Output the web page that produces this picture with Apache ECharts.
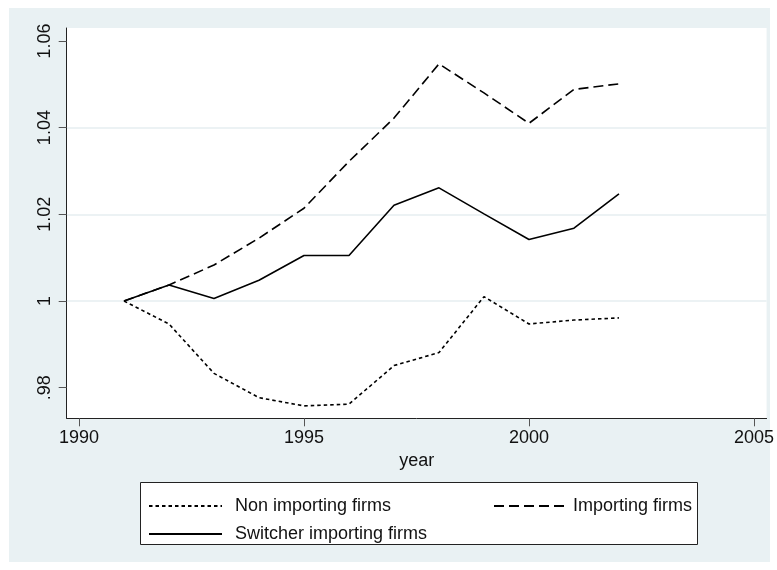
<!DOCTYPE html>
<html>
<head>
<meta charset="utf-8">
<script src="https://cdn.jsdelivr.net/npm/echarts@6/dist/echarts.min.js"></script>
<style>
  html, body { margin: 0; padding: 0; background: #fff; }
  #chart { width: 777px; height: 570px; }
</style>
</head>
<body>
<div id="chart"></div>
<script>
// values
const years = [1991, 1992, 1993, 1994, 1995, 1996, 1997, 1998, 1999, 2000, 2001, 2002]
const nonImporting = [1.0, 0.9947, 0.9833, 0.9777, 0.9758, 0.9762, 0.9851, 0.9881, 1.0010, 0.9947, 0.9956, 0.9961]
const importing = [1.0, 1.0037, 1.0083, 1.0145, 1.0214, 1.0322, 1.0422, 1.0547, 1.0480, 1.0410, 1.0488, 1.0501]
const switcher = [1.0, 1.0037, 1.0006, 1.0048, 1.0105, 1.0105, 1.0221, 1.0261, 1.0201, 1.0142, 1.0168, 1.0247]
const xTicks = [1990, 1995, 2000, 2005]
const yTicks = [0.98, 1.0, 1.02, 1.04, 1.06]
const yTickLabels = ['.98', '1', '1.02', '1.04', '1.06']

const FONT = "'Liberation Sans', Arial, sans-serif"
const BG = '#e9f1f3'
const GRIDLINE = '#e6eef1'

const pairs = (vals) => years.map((y, i) => [y, vals[i]])

const chart = echarts.init(document.getElementById('chart'))

// legend icons: line only, no marker on it
const legendItem = { color: 'transparent', borderWidth: 0 }

chart.setOption({
  animation: false,
  backgroundColor: '#fff',
  textStyle: { fontFamily: FONT },
  graphic: [
    { type: 'rect', z: -10, shape: { x: 9, y: 8, width: 761, height: 554 }, style: { fill: BG } },
    { type: 'rect', z: -5, shape: { x: 140.5, y: 482.5, width: 557, height: 62 }, style: { fill: '#fff', stroke: '#222', lineWidth: 1 } },
  ],
  grid: { left: 66.7, right: 10.3, top: 28, bottom: 151.7, show: true, backgroundColor: '#fff', borderWidth: 0 },
  xAxis: {
    type: 'value',
    min: 1989.727,
    max: 2005.28,
    name: 'year',
    nameLocation: 'middle',
    nameGap: 33,
    nameTextStyle: { color: '#111', fontSize: 18, fontFamily: FONT },
    axisLine: { lineStyle: { color: '#222', width: 1 } },
    axisTick: { customValues: xTicks, length: 8, lineStyle: { color: '#555' } },
    axisLabel: { customValues: xTicks, color: '#111', fontSize: 18, margin: 11, fontFamily: FONT, formatter: (v) => String(v) },
    splitLine: { show: false },
  },
  yAxis: {
    type: 'value',
    min: 0.97294,
    max: 1.06298,
    splitNumber: 4,
    axisLine: { show: true, lineStyle: { color: '#222', width: 1 } },
    axisTick: { show: true, customValues: yTicks, length: 8, lineStyle: { color: '#555' } },
    axisLabel: {
      customValues: yTicks,
      rotate: 90,
      color: '#111',
      fontSize: 18,
      margin: 13,
      fontFamily: FONT,
      formatter: (v) => yTickLabels[yTicks.findIndex((t) => Math.abs(t - v) < 1e-6)] ?? '',
    },
    splitLine: { show: true, showMinLine: false, showMaxLine: false, lineStyle: { color: GRIDLINE, width: 1.5 } },
  },
  legend: [
    {
      orient: 'vertical',
      left: 143,
      top: 492,
      itemWidth: 73,
      itemHeight: 18,
      itemGap: 10,
      itemStyle: legendItem,
      data: ['Non importing firms', 'Switcher importing firms'],
      textStyle: { color: '#111', fontSize: 18, fontFamily: FONT, padding: [0, 0, 0, 8] },
    },
    {
      orient: 'vertical',
      left: 488,
      top: 492,
      itemWidth: 70,
      itemHeight: 18,
      itemStyle: legendItem,
      data: ['Importing firms'],
      textStyle: { color: '#111', fontSize: 18, fontFamily: FONT, padding: [0, 0, 0, 4] },
    },
  ],
  series: [
    {
      name: 'Non importing firms',
      type: 'line',
      symbol: 'none',
      data: pairs(nonImporting),
      lineStyle: { color: '#000', width: 1.6, type: [3.5, 3] },
      itemStyle: { color: '#000' },
    },
    {
      name: 'Importing firms',
      type: 'line',
      symbol: 'none',
      data: pairs(importing),
      lineStyle: { color: '#000', width: 1.6, type: [10, 5] },
      itemStyle: { color: '#000' },
    },
    {
      name: 'Switcher importing firms',
      type: 'line',
      symbol: 'none',
      data: pairs(switcher),
      lineStyle: { color: '#000', width: 1.6, type: 'solid' },
      itemStyle: { color: '#000' },
    },
  ],
})
</script>
</body>
</html>
